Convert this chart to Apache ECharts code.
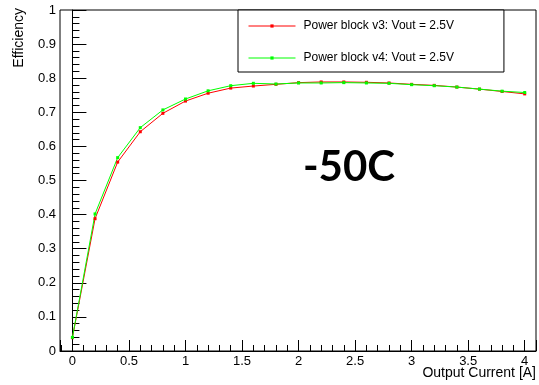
<!DOCTYPE html>
<html>
<head>
<meta charset="utf-8">
<script src="https://cdn.jsdelivr.net/npm/echarts@6/dist/echarts.min.js"></script>
<style>
html,body{margin:0;padding:0;background:#fff;}
#chart{width:539px;height:385px;}
</style>
</head>
<body>
<div id="chart"></div>
<script>
var current = [0, 0.2, 0.4, 0.6, 0.8, 1.0, 1.2, 1.4, 1.6, 1.8, 2.0, 2.2, 2.4, 2.6, 2.8, 3.0, 3.2, 3.4, 3.6, 3.8, 4.0];
var effV3 = [0.039, 0.388, 0.554, 0.643, 0.697, 0.733, 0.756, 0.771, 0.777, 0.782, 0.787, 0.789, 0.789, 0.788, 0.786, 0.782, 0.779, 0.774, 0.768, 0.761, 0.754];
var effV4 = [0.040, 0.402, 0.567, 0.655, 0.707, 0.739, 0.763, 0.778, 0.785, 0.783, 0.786, 0.786, 0.787, 0.786, 0.785, 0.781, 0.778, 0.774, 0.768, 0.762, 0.758];
var seriesNames = ['Power block v3: Vout = 2.5V', 'Power block v4: Vout = 2.5V'];
var xTitle = 'Output Current [A]';
var yTitle = 'Efficiency';
var annotation = '-50C';

function pairs(xs, ys) { return xs.map(function (x, i) { return [x, ys[i]]; }); }

var font = '"Liberation Sans", Arial, sans-serif';
var chart = echarts.init(document.getElementById('chart'), null, { renderer: 'canvas' });
chart.setOption({
  animation: false,
  backgroundColor: '#fff',
  grid: { left: 60, right: 3, top: 10, bottom: 34, show: true, borderColor: '#000', borderWidth: 1, backgroundColor: 'transparent' },
  xAxis: {
    type: 'value', min: -0.11, max: 4.1, splitNumber: 8,
    axisLine: { show: true, onZero: false, lineStyle: { color: '#000', width: 1 } },
    axisTick: { show: true, inside: true, length: 11, lineStyle: { color: '#000' } },
    minorTick: { show: true, splitNumber: 5, length: 6, lineStyle: { color: '#000' } },
    axisLabel: { showMinLabel: false, showMaxLabel: false, color: '#000', fontSize: 13, fontFamily: font, margin: 4 },
    splitLine: { show: false }, minorSplitLine: { show: false }
  },
  yAxis: {
    type: 'value', min: 0, max: 1, interval: 0.1,
    axisLine: { show: true, lineStyle: { color: '#000', width: 1 } },
    axisTick: { show: true, inside: true, length: 14, lineStyle: { color: '#000' } },
    minorTick: { show: true, splitNumber: 5, length: 7, lineStyle: { color: '#000' } },
    axisLabel: { color: '#000', fontSize: 13, fontFamily: font, margin: 4 },
    splitLine: { show: false }, minorSplitLine: { show: false }
  },
  legend: {
    left: 238, top: 10, orient: 'vertical',
    backgroundColor: '#fff', borderColor: '#000', borderWidth: 1,
    padding: [10, 50, 8, 10], itemGap: 20, itemWidth: 47, itemHeight: 4,
    lineStyle: { width: 1 },
    textStyle: { color: '#000', fontSize: 12, fontFamily: font, padding: [0, 0, 0, 3] },
    data: seriesNames
  },
  series: [
    { name: seriesNames[0], type: 'line', data: pairs(current, effV3), symbol: 'rect', symbolSize: 3, showAllSymbol: true,
      lineStyle: { color: '#ff0000', width: 1 }, itemStyle: { color: '#ff0000' } },
    { name: seriesNames[1], type: 'line', data: pairs(current, effV4), symbol: 'rect', symbolSize: 3, showAllSymbol: true,
      lineStyle: { color: '#00ff00', width: 1 }, itemStyle: { color: '#00ff00' } }
  ],
  graphic: [
    { type: 'text', x: 19, y: 8, rotation: Math.PI / 2,
      style: { text: yTitle, fill: '#000', font: '14px ' + font, textAlign: 'right', textVerticalAlign: 'middle' } },
    { type: 'text', x: 536, y: 373,
      style: { text: xTitle, fill: '#000', font: '14px ' + font, textAlign: 'right', textVerticalAlign: 'middle' } },
    { type: 'text', x: 349, y: 167,
      style: { text: annotation, fill: '#000', font: 'bold 42px Lato, "Open Sans", sans-serif', textAlign: 'center', textVerticalAlign: 'middle' } }
  ]
});
</script>
</body>
</html>
